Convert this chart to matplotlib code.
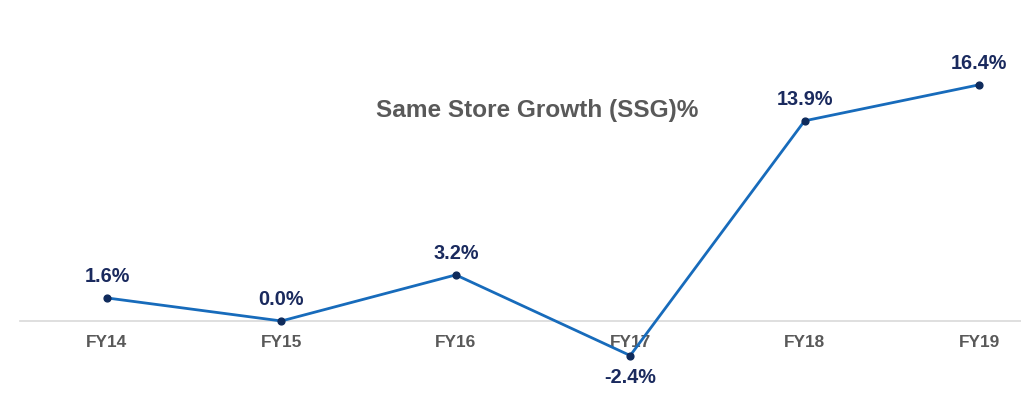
import matplotlib
matplotlib.use("Agg")
import numpy as np
import matplotlib.pyplot as plt

# Data
years = ["FY14", "FY15", "FY16", "FY17", "FY18", "FY19"]
ssg = [1.6, 0.0, 3.2, -2.4, 13.9, 16.4]
labels = ["1.6%", "0.0%", "3.2%", "-2.4%", "13.9%", "16.4%"]

plt.rcParams['font.family'] = ['Liberation Sans', 'DejaVu Sans']

fig = plt.figure(figsize=(10.21, 3.95), dpi=100)
ax = fig.add_axes([0, 0, 1, 1])

x = np.arange(len(years))
ax.plot(x, ssg, color='#176bbb', lw=2.0, zorder=3)
ax.scatter(x, ssg, s=24, color='#0f2b5c', zorder=4)

# Data labels, above except for negative values
for xi, v, lab in zip(x, ssg, labels):
    dy = -22 if v < 0 else 21
    ax.annotate(lab, (xi, v), xytext=(0, dy), textcoords='offset pixels',
                ha='center', va='center', fontsize=14.3, fontweight='bold',
                color='#1a2a5e', zorder=5)

ax.set_xlim(-0.6135, 5.2408)
ax.set_ylim(-5.14, 22.29)

for s in ['top', 'right', 'left']:
    ax.spines[s].set_visible(False)
ax.spines['bottom'].set_position(('data', 0))
ax.spines['bottom'].set_bounds(-0.5, 5.2408)
ax.spines['bottom'].set_color('#d9d9d9')
ax.spines['bottom'].set_linewidth(1.2)
ax.spines['bottom'].set_zorder(1)

ax.set_yticks([])
ax.set_xticks(x)
ax.set_xticklabels(years, fontsize=12.4, fontweight='bold', color='#595959')
ax.tick_params(axis='x', length=0, pad=10)

ax.text(0.526, 0.7215, "Same Store Growth (SSG)%", transform=ax.transAxes,
        ha='center', va='center', fontsize=17.6, fontweight='bold',
        color='#595959')

fig.savefig("out.png", dpi=100)
